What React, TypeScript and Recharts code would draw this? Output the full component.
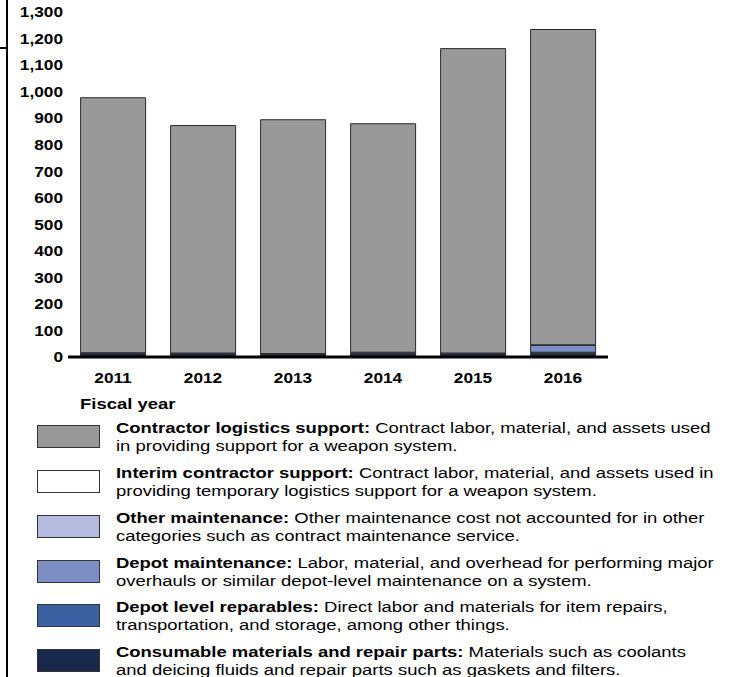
import React from 'react';
import { BarChart, Bar, XAxis, YAxis } from 'recharts';

const years = ['2011', '2012', '2013', '2014', '2015', '2016'];

// dollars in millions
const consumable = [12, 10, 9, 12, 10, 12];
const depotReparables = [4, 5, 4, 6, 5, 6];
const depotMaintenance = [0, 0, 0, 0, 0, 26];
const otherMaintenance = [0, 0, 0, 0, 0, 2];
const interimSupport = [0, 0, 0, 0, 0, 0];
const contractorSupport = [961, 857, 881, 861, 1147, 1188];

const yTicks = [0, 100, 200, 300, 400, 500, 600, 700, 800, 900, 1000, 1100, 1200, 1300];

// stack order, bottom first
const series = [
    { key: 'consumable', values: consumable, color: '#18284a', title: 'Consumable materials and repair parts:', lines: [' Materials such as coolants', 'and deicing fluids and repair parts such as gaskets and filters.'] },
    { key: 'depotReparables', values: depotReparables, color: '#3a62a3', title: 'Depot level reparables:', lines: [' Direct labor and materials for item repairs,', 'transportation, and storage, among other things.'] },
    { key: 'depotMaintenance', values: depotMaintenance, color: '#7b8fc4', title: 'Depot maintenance:', lines: [' Labor, material, and overhead for performing major', 'overhauls or similar depot-level maintenance on a system.'] },
    { key: 'otherMaintenance', values: otherMaintenance, color: '#b3bcdf', title: 'Other maintenance:', lines: [' Other maintenance cost not accounted for in other', 'categories such as contract maintenance service.'] },
    { key: 'interimSupport', values: interimSupport, color: '#ffffff', title: 'Interim contractor support:', lines: [' Contract labor, material, and assets used in', 'providing temporary logistics support for a weapon system.'] },
    { key: 'contractorSupport', values: contractorSupport, color: '#999999', title: 'Contractor logistics support:', lines: [' Contract labor, material, and assets used', 'in providing support for a weapon system.'] },
];

const data = years.map((year, i) => {
    const row: Record<string, string | number> = { year };
    series.forEach(s => { row[s.key] = s.values[i]; });
    return row;
});

const FONT = '"Liberation Sans", Arial, sans-serif';
const legendTops = [419, 464, 509, 554, 598, 643];

// the source picture is stretched sideways, so the tick text is widened too
const XTick = (props: any) => {
    const { x, y, payload } = props;
    return (
        <text transform={`translate(${x},${y}) scale(1.15,1)`} textAnchor="middle" dy="0.71em"
            fill="#000" fontSize={15} fontWeight="bold" fontFamily={FONT}>
            {payload.value}
        </text>
    );
};

const YTick = (props: any) => {
    const { x, y, payload } = props;
    return (
        <text transform={`translate(${x},${y}) scale(1.15,1)`} textAnchor="end" dy="0.355em"
            fill="#000" fontSize={15} fontWeight="bold" fontFamily={FONT}>
            {Number(payload.value).toLocaleString('en-US')}
        </text>
    );
};

const App: React.FC = () => {
    const legendItems = [...series].reverse();
    return (
        <div style={{ position: 'absolute', left: 0, top: 0, width: 733, height: 677, background: '#fff', fontFamily: FONT, overflow: 'hidden' }}>
            {/* page frame bits */}
            <div style={{ position: 'absolute', left: 6, top: 0, width: 2, height: 677, background: '#000' }} />
            <div style={{ position: 'absolute', left: 0, top: 47, width: 8, height: 2, background: '#000' }} />

            <div style={{ position: 'absolute', left: 0, top: 0 }}>
                <BarChart
                    width={733}
                    height={420}
                    data={data}
                    margin={{ top: 12, right: 125, bottom: 33, left: 8 }}
                    barCategoryGap="14%"
                >
                    <XAxis
                        dataKey="year"
                        height={30}
                        tickLine={false}
                        tickSize={0}
                        tickMargin={15}
                        axisLine={{ stroke: '#000', strokeWidth: 3 }}
                        tick={<XTick />}
                    />
                    <YAxis
                        width={60}
                        domain={[0, 1300]}
                        ticks={yTicks}
                        interval={0}
                        axisLine={false}
                        tickLine={false}
                        tickSize={0}
                        tickMargin={5}
                        tick={<YTick />}
                    />
                    {series.map(s => (
                        <Bar
                            key={s.key}
                            dataKey={s.key}
                            stackId="a"
                            fill={s.color}
                            stroke="#2a2a2a"
                            strokeWidth={1}
                            isAnimationActive={false}
                        />
                    ))}
                </BarChart>
            </div>

            <div style={{ position: 'absolute', left: 80, top: 395, fontSize: 15, fontWeight: 'bold', color: '#000', transform: 'scaleX(1.23)', transformOrigin: 'left top' }}>Fiscal year</div>

            {legendItems.map((s, i) => (
                <div key={s.key}>
                    <div style={{ position: 'absolute', left: 37, top: legendTops[i] + 6, width: 61, height: 21, background: s.color, border: '1.5px solid #333' }} />
                    <div style={{ position: 'absolute', left: 116, top: legendTops[i], fontSize: 15.5, lineHeight: '18px', color: '#000', whiteSpace: 'nowrap', transform: 'scaleX(1.19)', transformOrigin: 'left top' }}>
                        <div><b>{s.title}</b>{s.lines[0]}</div>
                        <div>{s.lines[1]}</div>
                    </div>
                </div>
            ))}
        </div>
    );
};

export default App;
